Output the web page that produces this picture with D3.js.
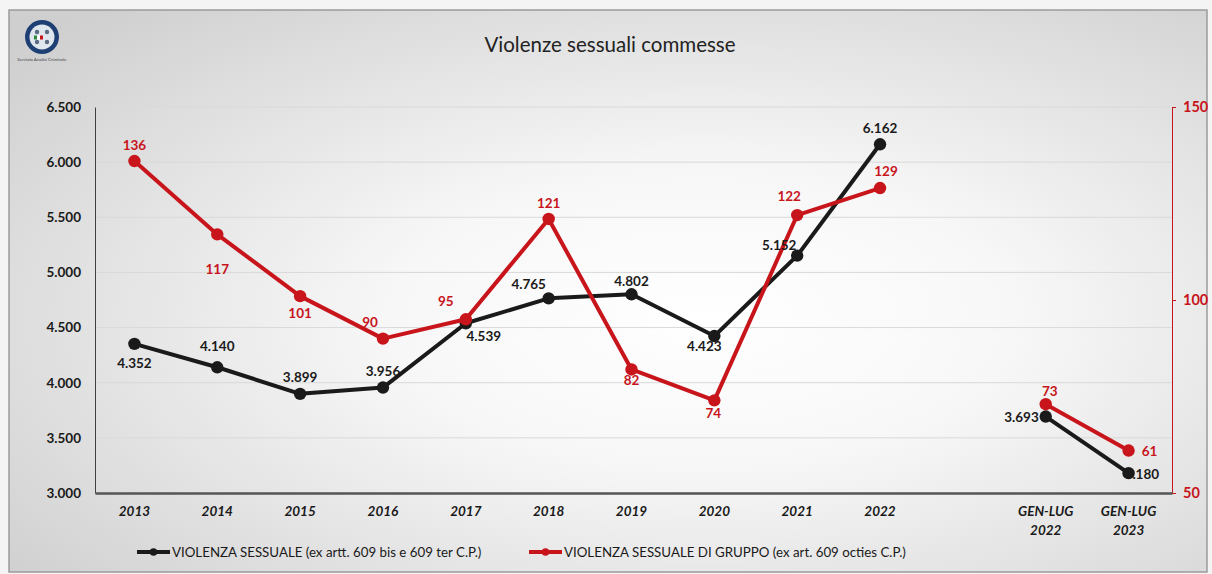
<!DOCTYPE html>
<html>
<head>
<meta charset="utf-8">
<script src="https://cdn.jsdelivr.net/npm/d3@7/dist/d3.min.js"></script>
<style>
  html, body { margin: 0; padding: 0; background: #ffffff; }
  svg { display: block; font-family: Lato, "Open Sans", "Liberation Sans", sans-serif; }
</style>
</head>
<body>
<svg id="chart" width="1212" height="574"></svg>
<script>
// Categories (an empty slot separates the full years from the Jan–Jul periods)
const categories = ["2013", "2014", "2015", "2016", "2017", "2018", "2019", "2020", "2021", "2022", "", "GEN-LUG\n2022", "GEN-LUG\n2023"];

// VIOLENZA SESSUALE (ex artt. 609 bis e 609 ter C.P.) — left axis
const sexualViolence = [4352, 4140, 3899, 3956, 4539, 4765, 4802, 4423, 5152, 6162, null, 3693, 3180];

// VIOLENZA SESSUALE DI GRUPPO (ex art. 609 octies C.P.) — right axis
const groupViolence = [136, 117, 101, 90, 95, 121, 82, 74, 122, 129, null, 73, 61];

const leftTicks = [3000, 3500, 4000, 4500, 5000, 5500, 6000, 6500];
const rightTicks = [50, 100, 150];

const seriesNames = [
  "VIOLENZA SESSUALE (ex artt. 609 bis e 609 ter C.P.)",
  "VIOLENZA SESSUALE DI GRUPPO (ex art. 609 octies C.P.)"
];

// Label offsets (dx, dy, anchor) relative to each point
const blackLabelPos = [
  [0, 24, "middle"], [0, -16, "middle"], [0, -12, "middle"], [0, -12, "middle"],
  [18, 18, "middle"], [-20, -9, "middle"], [0, -8, "middle"], [-10, 15, "middle"],
  [-18, -6, "middle"], [0, -11, "middle"], null, [-7, 5, "end"], [-4, 6, "start"]
];
const redLabelPos = [
  [0, -11, "middle"], [0, 40, "middle"], [0, 22, "middle"], [-13, -12, "middle"],
  [-20, -13, "middle"], [0, -11, "middle"], [0, 16, "middle"], [-1, 18, "middle"],
  [-8, -14, "middle"], [6, -12, "middle"], null, [4, -8, "middle"], [21, 5, "middle"]
];

const BLACK = "#1a1a1a";
const RED = "#c8151b";

const itFormat = d3.formatLocale({ decimal: ",", thousands: ".", grouping: [3], currency: ["€", ""] }).format(",d");

const svg = d3.select("#chart");
const W = 1212, H = 574;

// Background panel
const defs = svg.append("defs");
const rg = defs.append("radialGradient").attr("id", "bg")
  .attr("cx", "0.58").attr("cy", "0.55").attr("r", "0.75")
  .attr("gradientUnits", "objectBoundingBox");
rg.append("stop").attr("offset", "0").attr("stop-color", "#ffffff");
rg.append("stop").attr("offset", "0.35").attr("stop-color", "#f7f7f7");
rg.append("stop").attr("offset", "1").attr("stop-color", "#cfcfcf");

svg.append("rect").attr("width", W).attr("height", H).attr("fill", "#f4f4f4");
svg.append("rect").attr("x", 9).attr("y", 10).attr("width", 1198).attr("height", 562)
  .attr("fill", "url(#bg)").attr("stroke", "#9a9a9a").attr("stroke-width", 1.5);

// Logo
const logo = svg.append("g").attr("transform", "translate(42,37)");
logo.append("circle").attr("r", 17).attr("fill", "#1e3f73");
logo.append("circle").attr("r", 12.5).attr("fill", "#dfe6ee");
[[-5, -5], [5, -5], [-5, 5], [5, 5]].forEach(([x, y]) =>
  logo.append("circle").attr("cx", x).attr("cy", y).attr("r", 2.2).attr("fill", "#5b6a80"));
logo.append("rect").attr("x", -8).attr("y", -1.5).attr("width", 3).attr("height", 4).attr("fill", "#2e8b3a");
logo.append("rect").attr("x", -5).attr("y", -1.5).attr("width", 3).attr("height", 4).attr("fill", "#ffffff");
logo.append("rect").attr("x", -2).attr("y", -1.5).attr("width", 3).attr("height", 4).attr("fill", "#c8151b");
svg.append("text").attr("x", 42).attr("y", 61).attr("text-anchor", "middle")
  .attr("font-size", 4.5).attr("fill", "#444").text("Servizio Analisi Criminale");

// Title
svg.append("text").attr("x", 610).attr("y", 52).attr("text-anchor", "middle")
  .attr("font-size", 20.5).attr("fill", "#222").text("Violenze sessuali commesse");

// Plot area
const m = { left: 95, right: 1172, top: 107, bottom: 493 };

const x = d3.scaleBand().domain(d3.range(categories.length))
  .range([m.left, m.right]).paddingInner(0).paddingOuter(0);
const cx = i => x(i) + x.bandwidth() / 2 - 2;

const yL = d3.scaleLinear().domain([3000, 6500]).range([m.bottom, m.top]);
const yR = d3.scaleLinear().domain([50, 150]).range([m.bottom, m.top]);

// Gridlines
svg.append("g").selectAll("line").data(leftTicks.slice(1)).join("line")
  .attr("x1", m.left).attr("x2", m.right)
  .attr("y1", d => yL(d)).attr("y2", d => yL(d))
  .attr("stroke", "#d9d9d9").attr("stroke-width", 1);

// Left axis
const gL = svg.append("g").attr("transform", `translate(${m.left},0)`)
  .call(d3.axisLeft(yL).tickValues(leftTicks).tickFormat(itFormat).tickSize(0).tickPadding(14));
gL.select(".domain").attr("stroke", "#404040").attr("stroke-width", 1);
gL.selectAll("text").attr("font-size", 13.5).attr("font-weight", "bold").attr("fill", "#1a1a1a")
  .attr("font-family", "Lato, sans-serif");

// Right axis
const gR = svg.append("g").attr("transform", `translate(${m.right},0)`)
  .call(d3.axisRight(yR).tickValues(rightTicks).tickSize(4).tickPadding(7));
gR.select(".domain").attr("stroke", RED).attr("stroke-width", 1);
gR.selectAll(".tick line").attr("stroke", RED);
gR.selectAll("text").attr("font-size", 14.5).attr("font-weight", "bold").attr("fill", RED)
  .attr("font-family", "Lato, sans-serif");

// Bottom axis
const gB = svg.append("g").attr("transform", `translate(0,${m.bottom})`)
  .call(d3.axisBottom(x).tickSize(0).tickFormat(""));
gB.select(".domain").attr("stroke", "#555").attr("stroke-width", 2.5);

const xl = svg.append("g").selectAll("text").data(categories).join("text")
  .attr("x", (d, i) => cx(i)).attr("y", 516)
  .attr("text-anchor", "middle").attr("font-size", 13.5).attr("font-weight", "bold")
  .attr("font-style", "italic").attr("fill", "#1a1a1a");
xl.each(function (d) {
  d.split("\n").forEach((line, k) => {
    d3.select(this).append("tspan").attr("x", d3.select(this).attr("x"))
      .attr("dy", k === 0 ? 0 : 19).text(line);
  });
});

// Series lines (break at the empty category)
function drawSeries(values, yScale, color) {
  const pts = values.map((v, i) => ({ i, v }));
  const line = d3.line().defined(d => d.v !== null)
    .x(d => cx(d.i)).y(d => yScale(d.v));
  svg.append("path").datum(pts).attr("d", line)
    .attr("fill", "none").attr("stroke", color).attr("stroke-width", 4)
    .attr("stroke-linejoin", "round");
  const valid = pts.filter(d => d.v !== null);
  svg.append("g").selectAll("circle").data(valid).join("circle")
    .attr("cx", d => cx(d.i)).attr("cy", d => yScale(d.v)).attr("r", 6.2).attr("fill", color);
  return valid;
}

const blackPts = drawSeries(sexualViolence, yL, BLACK);
const redPts = drawSeries(groupViolence, yR, RED);

function drawLabels(pts, yScale, color, pos, fmt) {
  svg.append("g").selectAll("text").data(pts).join("text")
    .attr("x", d => cx(d.i) + pos[d.i][0])
    .attr("y", d => yScale(d.v) + pos[d.i][1])
    .attr("text-anchor", d => pos[d.i][2])
    .attr("font-size", 13.5).attr("font-weight", "bold").attr("fill", color)
    .text(d => fmt(d.v));
}
drawLabels(redPts, yR, RED, redLabelPos, d3.format("d"));
drawLabels(blackPts, yL, BLACK, blackLabelPos, itFormat);

// Legend
const legend = svg.append("g").attr("transform", "translate(0,552)");
const legendItems = [
  { name: seriesNames[0], color: BLACK, x: 137 },
  { name: seriesNames[1], color: RED, x: 529 }
];
legendItems.forEach(it => {
  legend.append("line").attr("x1", it.x).attr("x2", it.x + 33).attr("y1", 0).attr("y2", 0)
    .attr("stroke", it.color).attr("stroke-width", 4);
  legend.append("circle").attr("cx", it.x + 16.5).attr("cy", 0).attr("r", 3.8).attr("fill", it.color);
  legend.append("text").attr("x", it.x + 35).attr("y", 4.5)
    .attr("font-size", 13.3).attr("fill", "#1a1a1a").text(it.name);
});
</script>
</body>
</html>
